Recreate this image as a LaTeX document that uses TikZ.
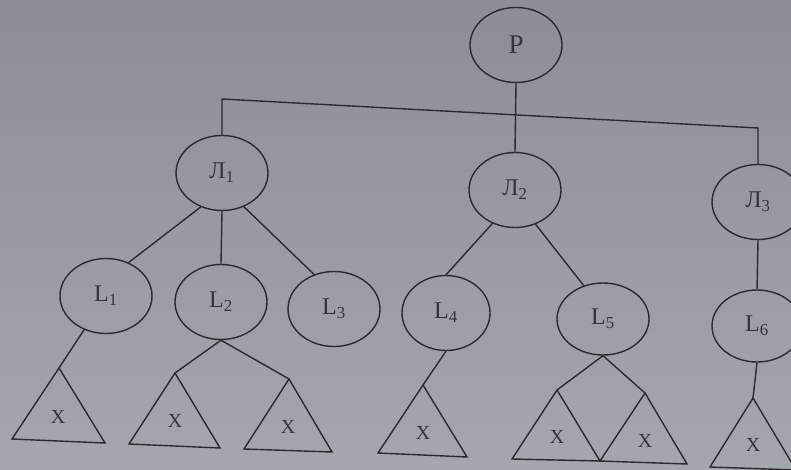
\documentclass[tikz,border=0pt]{standalone}
\usepackage{fontspec}
\setmainfont{Liberation Serif}
\usetikzlibrary{shapes.geometric}
\definecolor{ink}{HTML}{2A2A30}
\definecolor{txt}{HTML}{34343A}
\definecolor{bgtop}{HTML}{8E8D97}
\definecolor{bgmid}{HTML}{989AA1}
\definecolor{bgbot}{HTML}{A4A7AE}
\tikzset{
  oval/.style={ellipse, draw=ink, line width=1.4pt, inner sep=0pt,
    minimum width=92pt, minimum height=75pt, text=txt,
    font=\fontsize{24}{27}\selectfont},
  bigoval/.style={oval, font=\fontsize{27}{30}\selectfont},
  link/.style={draw=ink, line width=1.4pt},
  tri/.style={draw=ink, line width=1.4pt, line join=miter},
  xlab/.style={text=txt, inner sep=0pt, font=\fontsize{20}{22}\selectfont}
}
\begin{document}
\begin{tikzpicture}[x=1pt,y=-1pt]
\shade[top color=bgtop, middle color=bgmid, bottom color=bgbot] (0,0) rectangle (791,470);
\useasboundingbox (0,0) rectangle (791,470);

% upper level
\node[bigoval] (P) at (516,45) {P};
\node[oval] (J1) at (222,173) {Л\textsubscript{1}};
\node[oval] (J2) at (515,190) {Л\textsubscript{2}};
\node[oval] (J3) at (758,202) {Л\textsubscript{3}};

% lower level
\node[oval] (L1) at (106,296) {L\textsubscript{1}};
\node[oval] (L2) at (221,302) {L\textsubscript{2}};
\node[oval] (L3) at (334,309) {L\textsubscript{3}};
\node[oval, minimum width=88pt] (L4) at (446,313) {L\textsubscript{4}};
\node[oval, minimum height=72pt] (L5) at (603,319) {L\textsubscript{5}};
\node[oval, minimum width=90pt, minimum height=72pt] (L6) at (757,326) {L\textsubscript{6}};

% bus
\coordinate (c1) at (222,99);
\coordinate (c3) at (758,128);
\path[link] (J1.north) -- (c1) -- (c3) -- (J3.north);
\path[link] (P.south) -- (J2.north);

% second-level links
\path[link] (J1.238) -- (L1.56);
\path[link] (J1.south) -- (L2.north);
\path[link] (J1.303) -- (L3.120);
\path[link] (J2.236) -- (L4.90);
\path[link] (J2.301) -- (L5.120);
\path[link] (J3.south) -- (L6.north);

% triangle apexes
\coordinate (a1) at (59,368);
\coordinate (a2) at (175,373);
\coordinate (a3) at (289,379);
\coordinate (a4) at (423,385);
\coordinate (a5) at (557,390);
\coordinate (a6) at (645,393);
\coordinate (a7) at (753,398);
\coordinate (m5) at (600,461);

% triangles
\path[tri] (a1) -- (12,439) -- (105,443) -- cycle;
\path[tri] (a2) -- (129,444) -- (220,448) -- cycle;
\path[tri] (a3) -- (244,449) -- (332,452) -- cycle;
\path[tri] (a4) -- (378,453) -- (467,457) -- cycle;
\path[tri] (a5) -- (512,459) -- (m5) -- cycle;
\path[tri] (a6) -- (m5) -- (687,464) -- cycle;
\path[tri] (a7) -- (710,467) -- (796,470) -- cycle;

% links to triangles
\path[link] (L1.237) -- (a1);
\path[link] (L2.south) -- (a2);
\path[link] (L2.south) -- (a3);
\path[link] (L4.south) -- (a4);
\path[link] (L5.south) -- (a5);
\path[link] (L5.south) -- (a6);
\path[link] (L6.south) -- (a7);

% labels
\node[xlab] (x1) at (58,417) {X};
\node[xlab] (x2) at (175,421) {X};
\node[xlab] (x3) at (288,427) {X};
\node[xlab] (x4) at (423,433) {X};
\node[xlab] (x5) at (557,437) {X};
\node[xlab] (x6) at (645,441) {X};
\node[xlab] (x7) at (753,445) {X};
\end{tikzpicture}
\end{document}
